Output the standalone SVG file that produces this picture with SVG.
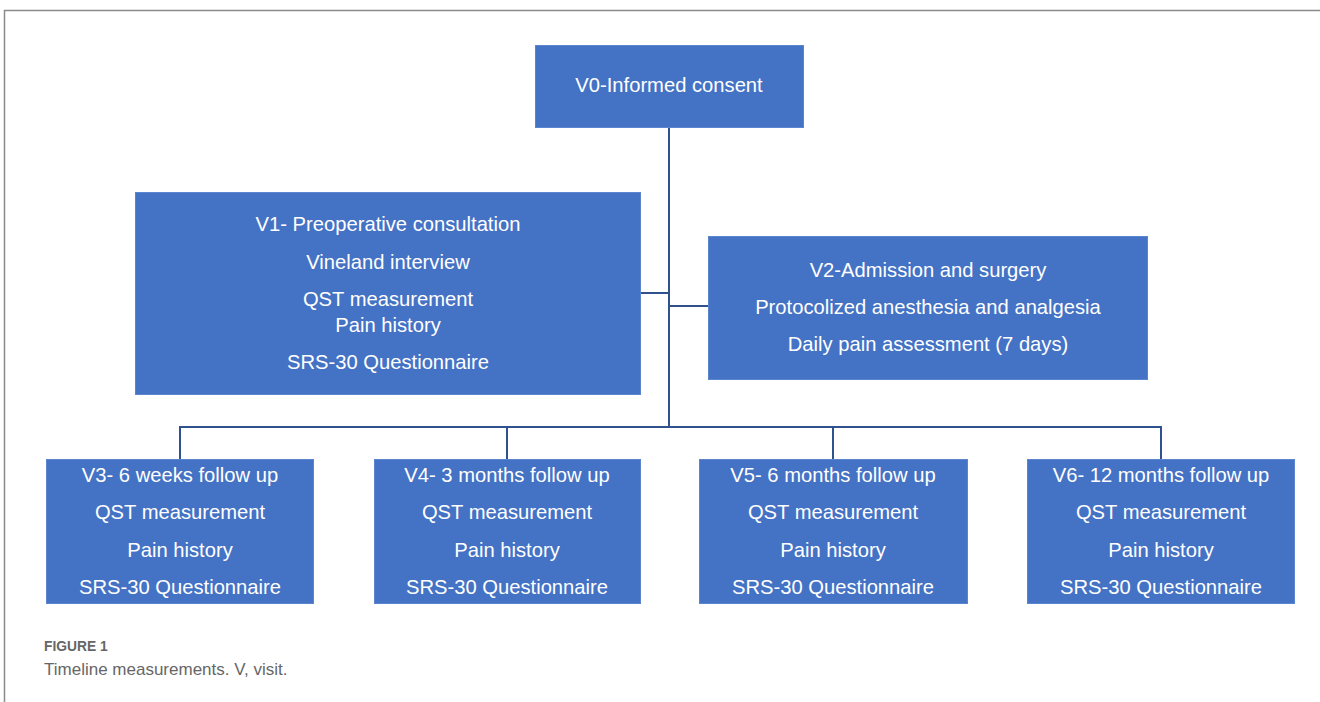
<svg xmlns="http://www.w3.org/2000/svg" width="1320" height="702" viewBox="0 0 1320 702">
<style>
.box{fill:#4472C4;stroke:#5B85CF;stroke-width:1}
.t{font-family:"Liberation Sans",Arial,sans-serif;font-size:20.2px;fill:#FFFFFF;text-anchor:middle}
.c{stroke:#2F528F;stroke-width:2;fill:none}
.frame{stroke:#8A8A8A;stroke-width:1.5;fill:none}
.cap1{font-family:"Liberation Sans",Arial,sans-serif;font-size:13.8px;font-weight:bold;fill:#666666}
.cap2{font-family:"Liberation Sans",Arial,sans-serif;font-size:17px;fill:#666666}
</style>
<rect width="1320" height="702" fill="#FFFFFF"/>
<path class="frame" d="M1320,10.5 H4.5 V702"/>
<g id="connectors">
<path class="c" d="M669,127 V427"/>
<path class="c" d="M640,293 H669"/>
<path class="c" d="M669,306 H708"/>
<path class="c" d="M180,459 V427 H1161 V459"/>
<path class="c" d="M507,427 V459"/>
<path class="c" d="M833,427 V459"/>
</g>
<g id="v0">
<rect class="box" x="535.5" y="45.5" width="268" height="82"/>
<text class="t" x="669" y="92">V0-Informed consent</text>
</g>
<g id="v1">
<rect class="box" x="135.5" y="192.5" width="505" height="202"/>
<text class="t" x="388" y="231">V1- Preoperative consultation</text>
<text class="t" x="388" y="269">Vineland interview</text>
<text class="t" x="388" y="306">QST measurement</text>
<text class="t" x="388" y="332">Pain history</text>
<text class="t" x="388" y="369">SRS-30 Questionnaire</text>
</g>
<g id="v2">
<rect class="box" x="708.5" y="236.5" width="439" height="143"/>
<text class="t" x="928" y="277">V2-Admission and surgery</text>
<text class="t" x="928" y="314">Protocolized anesthesia and analgesia</text>
<text class="t" x="928" y="351">Daily pain assessment (7 days)</text>
</g>
<g id="v3">
<rect class="box" x="46.5" y="459.5" width="267" height="144"/>
<text class="t" x="180" y="482">V3- 6 weeks follow up</text>
<text class="t" x="180" y="519">QST measurement</text>
<text class="t" x="180" y="557">Pain history</text>
<text class="t" x="180" y="594">SRS-30 Questionnaire</text>
</g>
<g id="v4">
<rect class="box" x="374.5" y="459.5" width="266" height="144"/>
<text class="t" x="507" y="482">V4- 3 months follow up</text>
<text class="t" x="507" y="519">QST measurement</text>
<text class="t" x="507" y="557">Pain history</text>
<text class="t" x="507" y="594">SRS-30 Questionnaire</text>
</g>
<g id="v5">
<rect class="box" x="699.5" y="459.5" width="268" height="144"/>
<text class="t" x="833" y="482">V5- 6 months follow up</text>
<text class="t" x="833" y="519">QST measurement</text>
<text class="t" x="833" y="557">Pain history</text>
<text class="t" x="833" y="594">SRS-30 Questionnaire</text>
</g>
<g id="v6">
<rect class="box" x="1027.5" y="459.5" width="267" height="144"/>
<text class="t" x="1161" y="482">V6- 12 months follow up</text>
<text class="t" x="1161" y="519">QST measurement</text>
<text class="t" x="1161" y="557">Pain history</text>
<text class="t" x="1161" y="594">SRS-30 Questionnaire</text>
</g>
<g id="caption">
<text class="cap1" x="44" y="651">FIGURE 1</text>
<text class="cap2" x="44" y="675">Timeline measurements. V, visit.</text>
</g>
</svg>
